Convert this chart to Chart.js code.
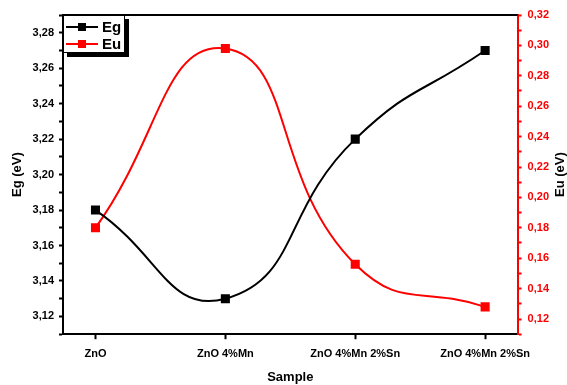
<!DOCTYPE html>
<html>
<head>
<meta charset="utf-8">
<script src="https://cdn.jsdelivr.net/npm/chart.js@4/dist/chart.umd.min.js"></script>
<style>
html, body { margin: 0; padding: 0; background: #fff; }
#wrap { width: 567px; height: 385px; }
</style>
</head>
<body>
<div id="wrap"><canvas id="c"></canvas></div>
<script>
const samples = ["ZnO", "ZnO 4%Mn", "ZnO 4%Mn 2%Sn", "ZnO 4%Mn 2%Sn"];
const egValues = [3.18, 3.13, 3.22, 3.27];
const euValues = [0.18, 0.298, 0.156, 0.128];

const FONT = "'Liberation Sans', Arial, sans-serif";

function pts(vals){
    return vals.map(function(v, i){ return {x: i, y: v}; });
}

function evenLabel(v){
    const h = Math.round(v * 100);
    if (h % 2 !== 0) return "";
    return v.toFixed(2).replace(".", ",");
}

function hundredths(from, to){
    const t = [];
    for (let h = from; h <= to; h++) t.push({value: h / 100});
    return t;
}

// legend box + axis titles drawn by hand (Origin style)
const decor = {
    id: "decor",
    afterDraw(chart){
        const ctx = chart.ctx;
        const a = chart.chartArea;
        const midY = (a.top + a.bottom) / 2;
        ctx.save();

        // top frame line
        ctx.strokeStyle = "#000";
        ctx.lineWidth = 2;
        ctx.beginPath();
        ctx.moveTo(a.left, a.top);
        ctx.lineTo(a.right, a.top);
        ctx.stroke();

        // legend
        const lx = a.left, ly = a.top, lw = 62, lh = 38;
        ctx.fillStyle = "#000";
        ctx.fillRect(lx + 4, ly + 4, lw, lh);
        ctx.fillStyle = "#fff";
        ctx.fillRect(lx, ly, lw, lh);
        ctx.lineWidth = 1;
        ctx.strokeStyle = "#000";
        ctx.strokeRect(lx + 0.5, ly + 0.5, lw - 1, lh - 1);

        const items = [["Eg", "#000"], ["Eu", "#ff0000"]];
        items.forEach(function(it, i){
            const y = ly + 12 + i * 17;
            ctx.strokeStyle = it[1];
            ctx.lineWidth = 2;
            ctx.beginPath();
            ctx.moveTo(lx + 3, y);
            ctx.lineTo(lx + 35, y);
            ctx.stroke();
            ctx.fillStyle = it[1];
            ctx.fillRect(lx + 15, y - 4, 8, 8);
            ctx.fillStyle = "#000";
            ctx.font = "bold 15px " + FONT;
            ctx.textBaseline = "middle";
            ctx.textAlign = "left";
            ctx.fillText(it[0], lx + 39, y + 1);
        });

        // y titles, both read bottom to top
        ctx.fillStyle = "#000";
        ctx.font = "bold 13px " + FONT;
        ctx.textAlign = "center";
        ctx.textBaseline = "middle";
        ctx.save();
        ctx.translate(17, midY);
        ctx.rotate(-Math.PI / 2);
        ctx.fillText("Eg (eV)", 0, 0);
        ctx.restore();
        ctx.save();
        ctx.translate(560, midY);
        ctx.rotate(-Math.PI / 2);
        ctx.fillText("Eu (eV)", 0, 0);
        ctx.restore();

        ctx.restore();
    }
};

new Chart(document.getElementById("c").getContext("2d"), {
    type: "line",
    data: {
        datasets: [
            {
                label: "Eg",
                data: pts(egValues),
                yAxisID: "y",
                borderColor: "#000",
                backgroundColor: "#000",
                borderWidth: 2,
                pointStyle: "rect",
                pointRadius: 5,
                tension: 0.5
            },
            {
                label: "Eu",
                data: pts(euValues),
                yAxisID: "y1",
                borderColor: "#ff0000",
                backgroundColor: "#ff0000",
                borderWidth: 2,
                pointStyle: "rect",
                pointRadius: 5,
                tension: 0.5
            }
        ]
    },
    options: {
        responsive: true,
        maintainAspectRatio: false,
        animation: false,
        layout: { padding: { left: 4, right: 12, top: 15, bottom: 0 } },
        plugins: {
            legend: { display: false },
            tooltip: { enabled: false }
        },
        scales: {
            x: {
                type: "linear",
                min: -0.25,
                max: 3.25,
                afterBuildTicks: function(s){
                    s.ticks = samples.map(function(_, i){ return {value: i}; });
                },
                ticks: {
                    color: "#000",
                    font: { family: FONT, size: 11, weight: "bold" },
                    padding: 8,
                    maxRotation: 0,
                    autoSkip: false,
                    callback: function(v){ return samples[v]; }
                },
                grid: {
                    drawOnChartArea: false,
                    tickLength: 5,
                    tickWidth: 2,
                    tickColor: "#000"
                },
                border: { color: "#000", width: 2 },
                title: {
                    display: true,
                    text: "Sample",
                    color: "#000",
                    font: { family: FONT, size: 13, weight: "bold" },
                    padding: { top: 1, bottom: 0 }
                }
            },
            y: {
                position: "left",
                min: 3.11,
                max: 3.29,
                afterBuildTicks: function(s){ s.ticks = hundredths(311, 329); },
                ticks: {
                    color: "#000",
                    font: { family: FONT, size: 11, weight: "bold" },
                    padding: 5,
                    autoSkip: false,
                    callback: evenLabel
                },
                grid: {
                    drawOnChartArea: false,
                    tickLength: 4,
                    tickWidth: 2,
                    tickColor: "#000"
                },
                border: { color: "#000", width: 2 },
                title: {
                    display: true,
                    text: "Eg (eV)",
                    color: "transparent",
                    font: { family: FONT, size: 13, weight: "bold" }
                }
            },
            y1: {
                position: "right",
                min: 0.11,
                max: 0.32,
                afterBuildTicks: function(s){ s.ticks = hundredths(11, 32); },
                ticks: {
                    color: "#ff0000",
                    font: { family: FONT, size: 11, weight: "bold" },
                    padding: 6,
                    autoSkip: false,
                    callback: evenLabel
                },
                grid: {
                    drawOnChartArea: false,
                    tickLength: 4,
                    tickWidth: 2,
                    tickColor: "#ff0000"
                },
                border: { color: "#ff0000", width: 2 }
            }
        }
    },
    plugins: [decor]
});
</script>
</body>
</html>
